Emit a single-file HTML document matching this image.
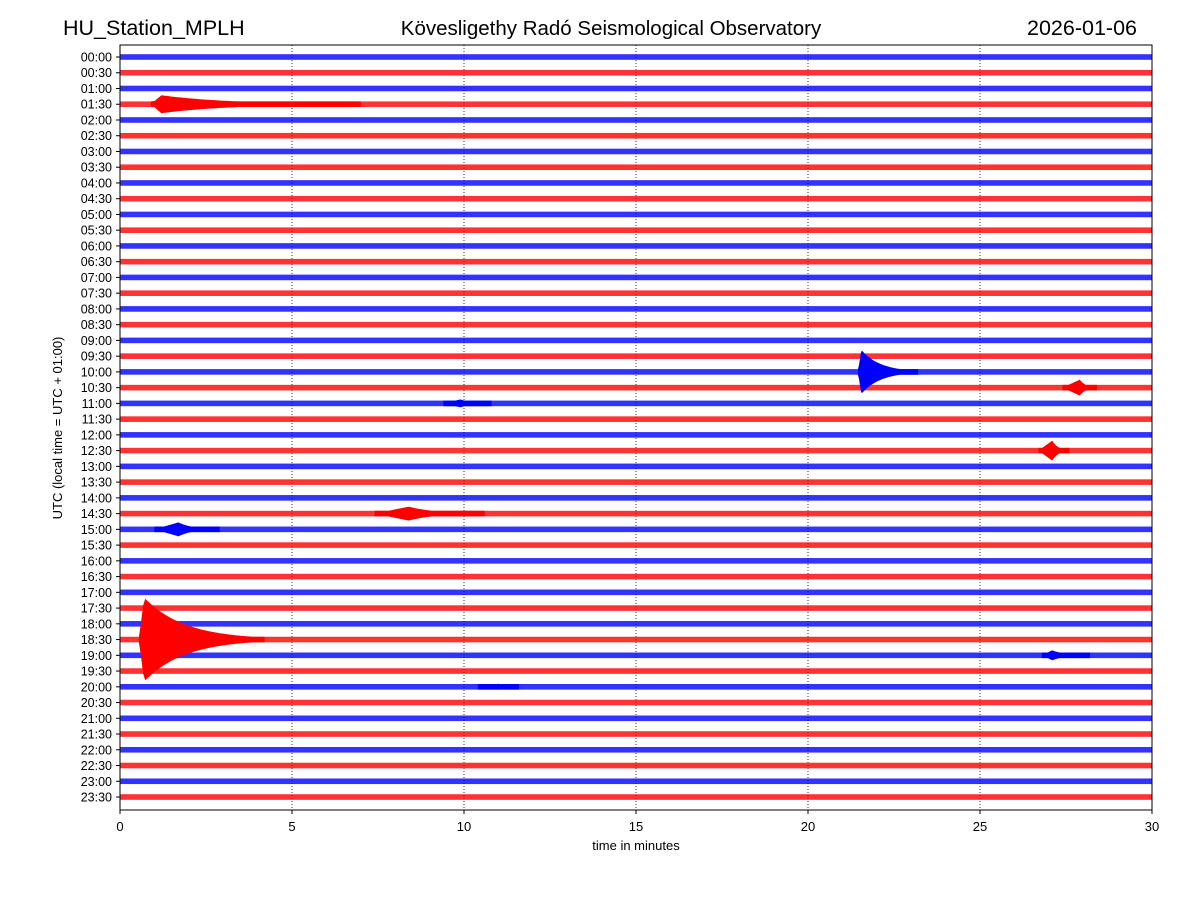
<!DOCTYPE html>
<html><head><meta charset="utf-8"><style>
body{margin:0;background:#fff;}
svg text{font-family:"Liberation Sans","DejaVu Sans",sans-serif;}
</style></head><body>
<svg id="chart" width="1200" height="900" xmlns="http://www.w3.org/2000/svg">
<text x="63" y="35" font-size="21.5">HU_Station_MPLH</text>
<text x="611" y="35" font-size="20.5" text-anchor="middle">Kövesligethy Radó Seismological Observatory</text>
<text x="1137" y="35" font-size="21.5" text-anchor="end">2026-01-06</text>
<g id="grid"></g><g id="traces"></g><g id="axes"></g>
<text x="636" y="850" font-size="13" text-anchor="middle">time in minutes</text>
<text transform="translate(62,428) rotate(-90)" font-size="13" text-anchor="middle">UTC (local time = UTC + 01:00)</text>
</svg>
<script>
const rowLabels=[];for(let h=0;h<24;h++){const s=String(h).padStart(2,'0');rowLabels.push(s+':00',s+':30');}
const xTicks=[0,5,10,15,20,25,30];
const noiseAmp=2.8;
// events: row index, start, peak, end (minutes), amplitude (in trace units px)
const evRows=[3,20,21,22,25,29,30,37,38,40];
const evStart=[0.9,21.45,27.4,9.4,26.7,7.4,1.0,0.55,26.8,10.4];
const evPeak=[1.2,21.55,27.9,9.9,27.1,8.4,1.7,0.7,27.1,11.0];
const evEnd=[7.0,23.2,28.4,10.8,27.6,10.6,2.9,4.2,28.2,11.6];
const evAmp=[9,22,8,4,10,7,7,42,5,3];
const X0=120,X1=1152,Y0=45,Y1=810;
const x=t=>X0+(t/30)*(X1-X0);
const y=i=>57+i*15.745;
const NS='http://www.w3.org/2000/svg';
function mk(tag,attrs,parent){const e=document.createElementNS(NS,tag);for(const k in attrs)e.setAttribute(k,attrs[k]);parent.appendChild(e);return e;}
const grid=document.getElementById('grid'),tr=document.getElementById('traces'),ax=document.getElementById('axes');
xTicks.forEach(t=>{if(t>0&&t<30){const l=mk('line',{x1:x(t),x2:x(t),y1:Y0,y2:Y1,stroke:'#000','stroke-width':0.8,'stroke-dasharray':'1,2'},grid);

}});
rowLabels.forEach((lab,i)=>{
 const col=i%2?'#ff0000':'#0000ff';
 const r=mk('rect',{x:X0,y:y(i)-noiseAmp,width:X1-X0,height:noiseAmp*2,fill:col,opacity:0.8},tr);
 
 
 const t=mk('text',{x:X0-8,y:y(i)+4.5,'font-size':12.5,'text-anchor':'end'},ax);t.textContent=lab;
 
 
 mk('line',{x1:X0-4,x2:X0,y1:y(i),y2:y(i),stroke:'#000'},ax);
});
evRows.forEach((row,k)=>{
 const col=row%2?'#ff0000':'#0000ff';const yc=y(row);
 const pts=[];const n=60;
 for(let j=0;j<=n;j++){const t=evStart[k]+(evEnd[k]-evStart[k])*j/n;
  let a;if(t<=evPeak[k])a=evAmp[k]*(t-evStart[k])/(evPeak[k]-evStart[k]+1e-9);
  else a=evAmp[k]*Math.exp(-3*(t-evPeak[k])/(evEnd[k]-evPeak[k]));
  a=Math.max(a,noiseAmp);pts.push([x(t),a]);}
 const d=pts.map(p=>p[0]+','+(yc-p[1])).concat(pts.slice().reverse().map(p=>p[0]+','+(yc+p[1]))).join(' ');
 const p=mk('polygon',{points:d,fill:col},tr);
 
 
});
mk('rect',{x:X0,y:Y0,width:X1-X0,height:Y1-Y0,fill:'none',stroke:'#000','stroke-width':1},ax);
xTicks.forEach(t=>{mk('line',{x1:x(t),x2:x(t),y1:Y1,y2:Y1+4,stroke:'#000'},ax);
 const tx=mk('text',{x:x(t),y:Y1+21,'font-size':13,'text-anchor':'middle'},ax);tx.textContent=t;
 
 });
</script>
</body></html>
